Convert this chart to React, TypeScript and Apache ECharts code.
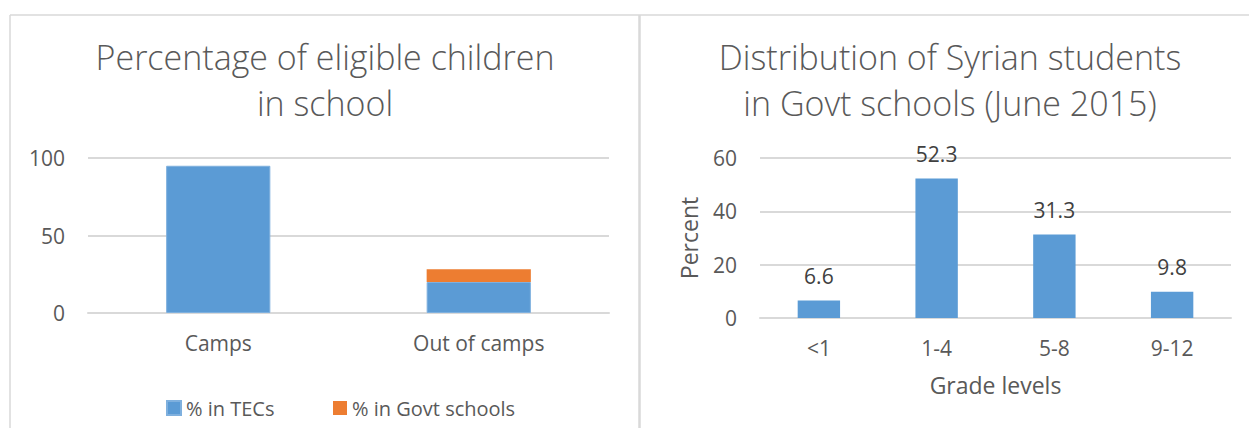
import React, { useEffect, useRef } from "react";
import * as echarts from "echarts";

const locationCategories = ["Camps", "Out of camps"];
const pctInTECs = [95, 20];
const pctInGovtSchools = [0, 8.3];
const leftTicks = [0, 50, 100];

const gradeLevels = ["<1", "1-4", "5-8", "9-12"];
const gradeShares = [6.6, 52.3, 31.3, 9.8];

const FONT = "'Open Sans', 'Noto Sans', sans-serif";
const GREY = "#595959";
const GRID = "#d9d9d9";
const BLUE = "#5B9BD5";
const ORANGE = "#ED7D31";

export default function App() {
  const ref = useRef<HTMLDivElement>(null);
  useEffect(() => {
    if (!ref.current) return;
    const chart = echarts.init(ref.current, undefined, { renderer: "svg" });
    const tickStyle = { color: GREY, fontSize: 21, fontFamily: FONT };
    chart.setOption({
      animation: false,
      backgroundColor: "#ffffff",
      textStyle: { fontFamily: FONT },
      graphic: [
        { type: "line", shape: { x1: 10, y1: 15, x2: 1249, y2: 15 }, style: { stroke: GRID, lineWidth: 1.5 } },
        { type: "line", shape: { x1: 10, y1: 15, x2: 10, y2: 428 }, style: { stroke: GRID, lineWidth: 1.5 } },
        { type: "line", shape: { x1: 639.5, y1: 15, x2: 639.5, y2: 428 }, style: { stroke: GRID, lineWidth: 2.5 } },
        {
          type: "text",
          x: 325,
          y: 34,
          style: {
            text: "Percentage of eligible children\nin school",
            fill: GREY,
            font: `300 34px ${FONT}`,
            textAlign: "center",
            textVerticalAlign: "top",
            lineHeight: 46,
          },
        },
        {
          type: "text",
          x: 950,
          y: 34,
          style: {
            text: "Distribution of Syrian students\nin Govt schools (June 2015)",
            fill: GREY,
            font: `300 34px ${FONT}`,
            textAlign: "center",
            textVerticalAlign: "top",
            lineHeight: 46,
          },
        },
      ],
      legend: [
        {
          left: 161,
          top: 393,
          itemWidth: 14,
          itemHeight: 14,
          icon: "rect",
          data: ["% in TECs"],
          textStyle: { color: GREY, fontSize: 20, fontFamily: FONT },
          selectedMode: false,
        },
        {
          left: 328,
          top: 393,
          itemWidth: 14,
          itemHeight: 14,
          icon: "rect",
          data: ["% in Govt schools"],
          textStyle: { color: GREY, fontSize: 20, fontFamily: FONT },
          selectedMode: false,
        },
      ],
      grid: [
        { left: 88, right: 1249 - 609, top: 158, bottom: 428 - 313, containLabel: false },
        { left: 760, right: 1249 - 1231, top: 158, bottom: 428 - 318, containLabel: false },
      ],
      xAxis: [
        {
          type: "category",
          gridIndex: 0,
          data: locationCategories,
          axisLine: { lineStyle: { color: GRID, width: 2 } },
          axisTick: { show: false },
          axisLabel: { ...tickStyle, margin: 19 },
        },
        {
          type: "category",
          gridIndex: 1,
          data: gradeLevels,
          axisLine: { lineStyle: { color: GRID, width: 2 } },
          axisTick: { show: false },
          axisLabel: { ...tickStyle, margin: 19 },
          name: "Grade levels",
          nameLocation: "middle",
          nameGap: 55,
          nameTextStyle: { color: GREY, fontSize: 23, fontFamily: FONT },
        },
      ],
      yAxis: [
        {
          type: "value",
          gridIndex: 0,
          min: 0,
          max: leftTicks[leftTicks.length - 1],
          interval: leftTicks[1] - leftTicks[0],
          axisLine: { show: false },
          axisTick: { show: false },
          splitLine: { lineStyle: { color: GRID, width: 2 } },
          axisLabel: { ...tickStyle, margin: 23 },
        },
        {
          type: "value",
          gridIndex: 1,
          min: 0,
          max: 60,
          interval: 20,
          axisLine: { show: false },
          axisTick: { show: false },
          splitLine: { lineStyle: { color: GRID, width: 2 } },
          axisLabel: { ...tickStyle, margin: 23 },
          name: "Percent",
          nameLocation: "middle",
          nameGap: 60,
          nameTextStyle: { color: GREY, fontSize: 23, fontFamily: FONT },
        },
      ],
      series: [
        {
          name: "% in TECs",
          type: "bar",
          stack: "total",
          xAxisIndex: 0,
          yAxisIndex: 0,
          barWidth: "40%",
          data: pctInTECs,
          itemStyle: { color: BLUE, borderColor: "#7fb0de", borderWidth: 1 },
        },
        {
          name: "% in Govt schools",
          type: "bar",
          stack: "total",
          xAxisIndex: 0,
          yAxisIndex: 0,
          barWidth: "40%",
          data: pctInGovtSchools,
          itemStyle: { color: ORANGE },
        },
        {
          name: "Distribution",
          type: "bar",
          xAxisIndex: 1,
          yAxisIndex: 1,
          barWidth: "36%",
          data: gradeShares,
          itemStyle: { color: BLUE },
          label: {
            show: true,
            position: "top",
            distance: 14,
            color: "#404040",
            fontSize: 21,
            fontFamily: FONT,
          },
        },
      ],
    });
    return () => chart.dispose();
  }, []);
  return (
    <div
      ref={ref}
      style={{ position: "fixed", left: 0, top: 0, width: 1249, height: 428 }}
    />
  );
}
